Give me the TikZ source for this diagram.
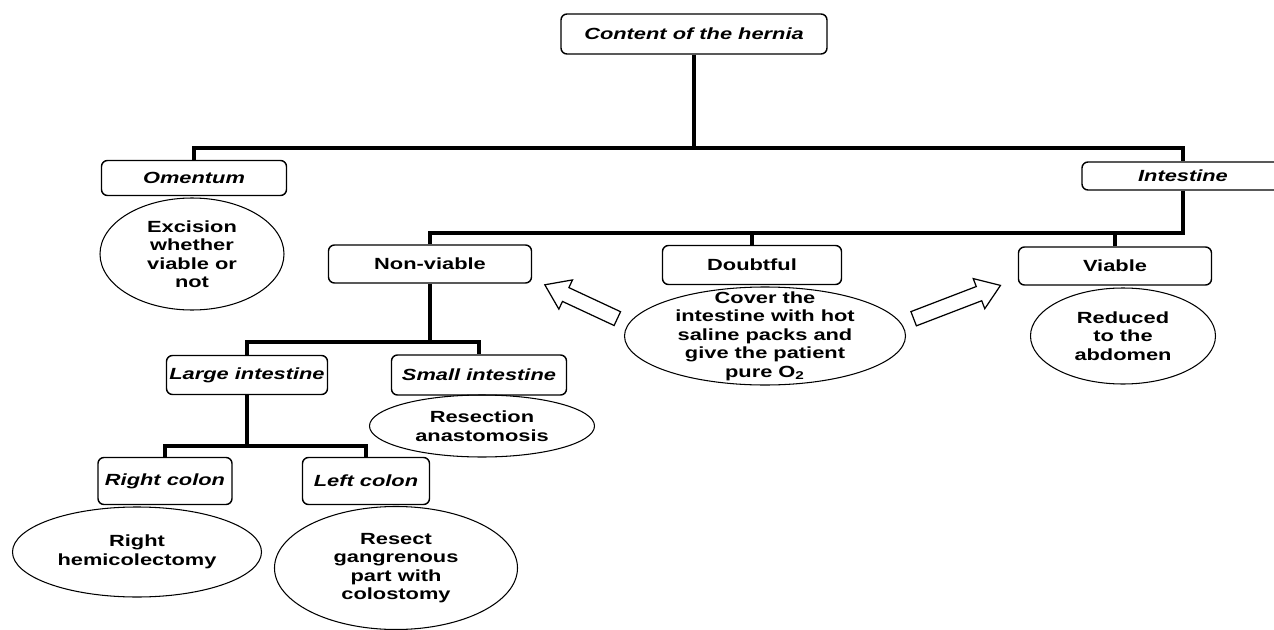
\documentclass[tikz,border=0pt]{standalone}
\usepackage{fontspec}
\setsansfont{Liberation Sans}[FakeStretch=1.35]
\usetikzlibrary{shapes.geometric,shapes.arrows,calc}

\begin{document}
\begin{tikzpicture}[x=0.2mm,y=-0.2mm,
  every node/.style={font=\sffamily\bfseries\fontsize{9.2}{10.5}\selectfont,align=center},
  hbox/.style={draw,rounded corners=1.2mm,line width=0.8pt,inner sep=0pt},
  tnode/.style={draw,ellipse,line width=0.6pt,inner sep=-0.25cm},
  link/.style={line width=2pt},
  barrow/.style={draw,single arrow,fill=white,line width=0.7pt,inner sep=0.14cm,
    single arrow head extend=0.17cm,single arrow tip angle=70}
]
\fill[white] (0,0) rectangle (1274,630);
\useasboundingbox (0,0) rectangle (1274,630);

% the headings
\node[hbox,minimum width=5.32cm,minimum height=0.8cm] (hernia) at (694,34) {\itshape Content of the hernia};
\node[hbox,minimum width=3.7cm,minimum height=0.7cm] (omentum) at (194,178) {\itshape Omentum};
\node[hbox,minimum width=4.04cm,minimum height=0.56cm] (intestine) at (1183,176) {\itshape Intestine};

% the state of the intestine
\node[hbox,minimum width=4.06cm,minimum height=0.76cm] (nonviable) at (430,264) {Non-viable};
\node[hbox,minimum width=3.58cm,minimum height=0.78cm] (doubtful) at (752,265) {Doubtful};
\node[hbox,minimum width=3.86cm,minimum height=0.76cm] (viable) at (1115,266) {Viable};

% the parts
\node[hbox,minimum width=3.22cm,minimum height=0.78cm] (large) at (247,375) {\itshape Large intestine};
\node[hbox,minimum width=3.5cm,minimum height=0.8cm] (small) at (479,375) {\itshape Small intestine};
\node[hbox,minimum width=2.68cm,minimum height=0.94cm] (rightcolon) at (165,481) {\itshape Right colon};
\node[hbox,minimum width=2.54cm,minimum height=0.94cm] (leftcolon) at (366,481) {\itshape Left colon};

% the treatments
\node[tnode,minimum width=3.68cm,minimum height=2.24cm] (excision) at (192,254) {Excision\\whether\\viable or\\not};
\node[tnode,minimum width=5.62cm,minimum height=1.96cm] (cover) at (765,336) {Cover the\\intestine with hot\\saline packs and\\give the patient\\pure O\textsubscript{2}};
\node[tnode,minimum width=3.7cm,minimum height=1.92cm] (reduced) at (1123,336) {Reduced\\to the\\abdomen};
\node[tnode,minimum width=4.5cm,minimum height=1.24cm] (resection) at (482,426) {Resection\\anastomosis};
\node[tnode,minimum width=4.98cm,minimum height=1.8cm] (hemicol) at (137,552) {Right\\hemicolectomy};
\node[tnode,minimum width=4.86cm,minimum height=2.46cm] (resect) at (396,568) {Resect\\gangrenous\\part with\\colostomy};

% the block arrows
\node[barrow,minimum height=1.6cm,rotate=155] (arrowleft) at (586,304) {};
\node[barrow,minimum height=1.86cm,rotate=21] (arrowright) at (952,304) {};

% the branches
\coordinate (bus1) at (694,148);
\coordinate (bus2) at (1183,233);
\coordinate (bus3) at (430,342);
\coordinate (bus4) at (247,446);

\draw[link] (hernia) -- (bus1);
\draw[link] (omentum) |- (bus1) -| (intestine);
\draw[link] (intestine) -- (bus2) -| (nonviable);
\draw[link] (doubtful) -- (doubtful |- bus2);
\draw[link] (viable) -- (viable |- bus2);
\draw[link] (nonviable) -- (bus3);
\draw[link] (large) |- (bus3) -| (small);
\draw[link] (large) -- (bus4);
\draw[link] (rightcolon) |- (bus4) -| (leftcolon);
\end{tikzpicture}
\end{document}
